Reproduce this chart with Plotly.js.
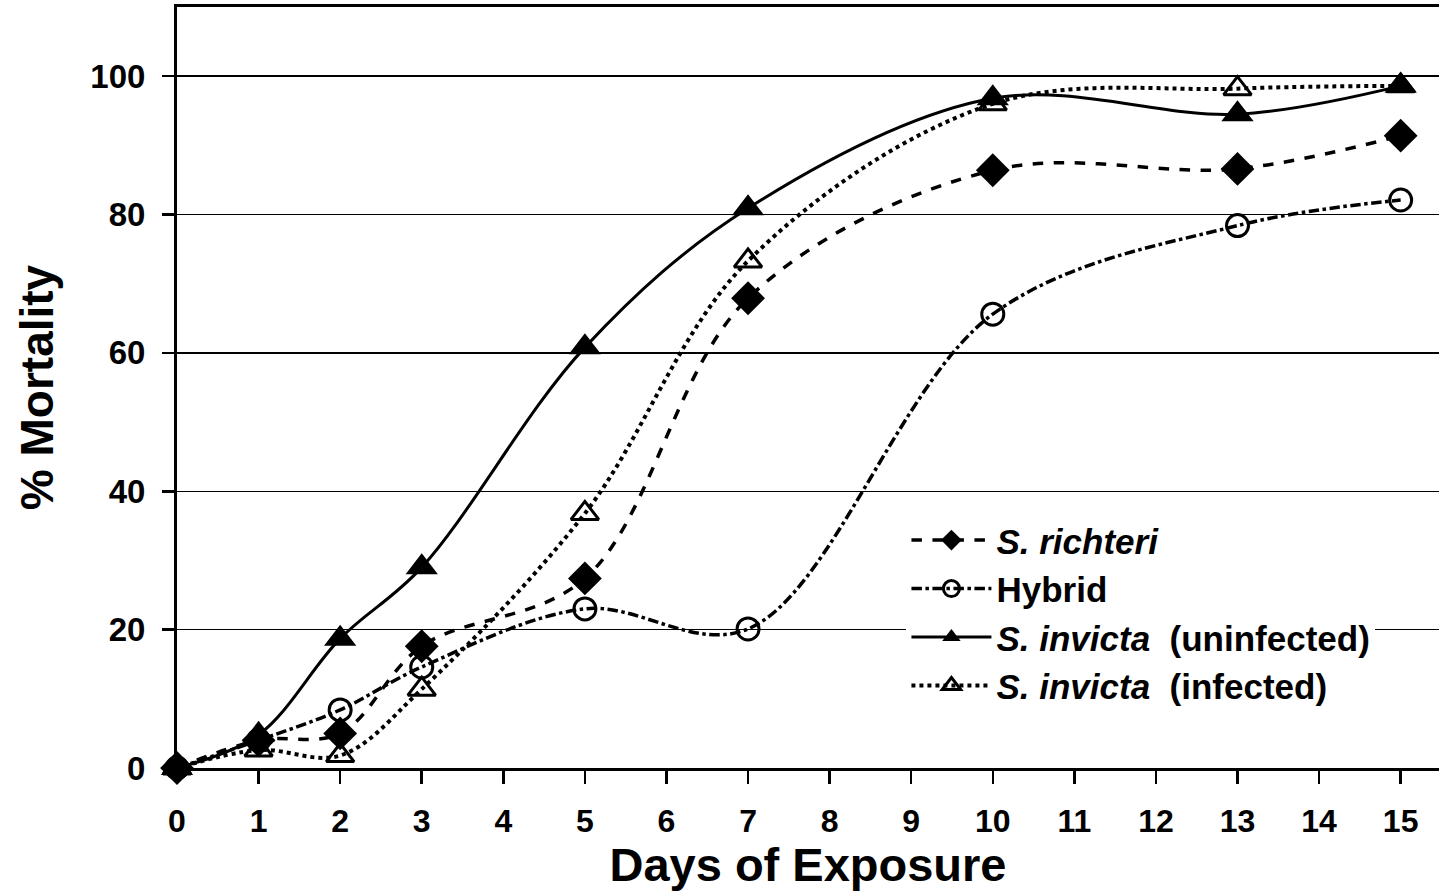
<!DOCTYPE html>
<html>
<head>
<meta charset="utf-8">
<script src="https://cdn.plot.ly/plotly-3.0.1.min.js"></script>
<style>html,body{margin:0;padding:0;background:#fff;}#chart{width:1439px;height:891px;}</style>
</head>
<body>
<div id="chart"></div>
<script>
const days = [0, 1, 2, 3, 5, 7, 10, 13, 15];
const richteri = [0, 4, 5, 17.6, 27.4, 67.9, 86.4, 86.6, 91.4];
const hybrid = [0, 4, 8.4, 14.6, 23, 20.1, 65.6, 78.4, 82.1];
const invictaUninf = [0, 4.8, 18.7, 29, 60.8, 80.9, 96.8, 94.5, 98.6];
const invictaInf = [0, 2.6, 1.8, 11.4, 36.8, 73.3, 96, 98.2, 98.6];
const xTicks = [0,1,2,3,4,5,6,7,8,9,10,11,12,13,14,15];
const yTicks = [0,20,40,60,80,100];
const names = ['<i>S. richteri</i>', 'Hybrid', '<i>S. invicta</i>  (uninfected)', '<i>S. invicta</i>  (infected)'];

const base = {type:'scatter', mode:'lines+markers', x: days, cliponaxis:false};
const traces = [
  Object.assign({}, base, {name:names[0], y:richteri,
    line:{color:'#000', width:3.5, dash:'dash', shape:'spline', smoothing:1},
    marker:{symbol:'diamond', size:26, color:'#000'}}),
  Object.assign({}, base, {name:names[1], y:hybrid,
    line:{color:'#000', width:3.5, dash:'dashdot', shape:'spline', smoothing:1},
    marker:{symbol:'circle-open', size:22, color:'#000', line:{width:3, color:'#000'}}}),
  Object.assign({}, base, {name:names[2], y:invictaUninf,
    line:{color:'#000', width:3, dash:'solid', shape:'spline', smoothing:1},
    marker:{symbol:'triangle-up', size:28, color:'#000'}}),
  Object.assign({}, base, {name:names[3], y:invictaInf,
    line:{color:'#000', width:4, dash:'dot', shape:'spline', smoothing:1},
    marker:{symbol:'triangle-up-open', size:24, color:'#000', line:{width:3, color:'#000'}}})
];

const fnt = {family:'Arial, "Liberation Sans", sans-serif', color:'#000', weight:'bold'};
const layout = {
  width:1439, height:891,
  margin:{l:177, r:0, t:7, b:123},
  paper_bgcolor:'#fff', plot_bgcolor:'#fff',
  showlegend:true,
  legend:{x:0.578, y:0.338, xanchor:'left', yanchor:'top', bgcolor:'#fff',
    font:Object.assign({}, fnt, {size:35}), itemwidth:80, tracegroupgap:0,
    borderwidth:0},
  xaxis:{range:[0, 15.47], tickvals:xTicks, ticktext:xTicks.map(String),
    showgrid:false, zeroline:false, showline:true, linecolor:'#000', linewidth:3,
    mirror:true, ticks:'outside', ticklen:13, tickwidth:2.5, tickcolor:'#000',
    ticklabelstandoff:10,
    tickfont:Object.assign({}, fnt, {size:32}),
    title:{text:'Days of Exposure', font:Object.assign({}, fnt, {size:47}), standoff:0}},
  yaxis:{range:[0, 110], tickvals:yTicks, ticktext:yTicks.map(String),
    showgrid:true, gridcolor:'#000', gridwidth:1.5, zeroline:false,
    showline:true, linecolor:'#000', linewidth:3,
    ticks:'outside', ticklen:12, tickwidth:2.5, tickcolor:'#000',
    ticklabelstandoff:10,
    tickfont:Object.assign({}, fnt, {size:33}),
    title:{text:'% Mortality', font:Object.assign({}, fnt, {size:46}), standoff:23}}
};
Plotly.newPlot('chart', traces, layout, {staticPlot:true});
</script>
</body>
</html>
